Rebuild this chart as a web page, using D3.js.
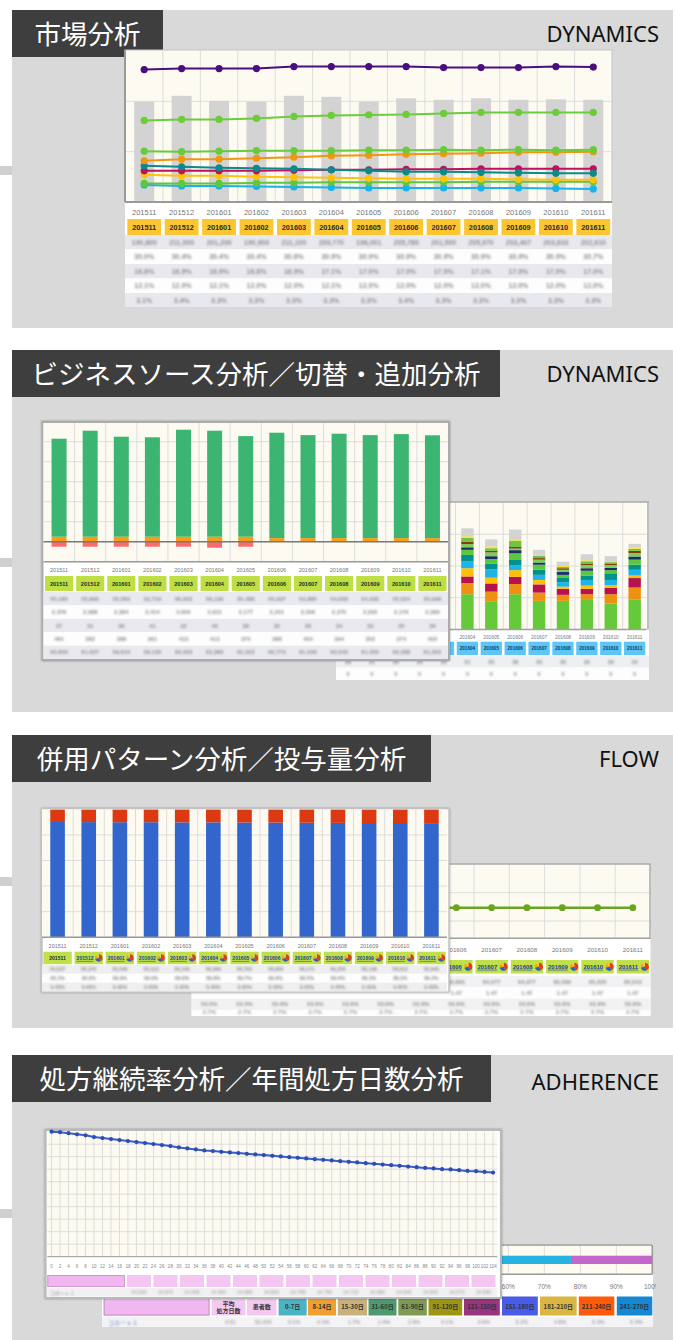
<!DOCTYPE html>
<html><head><meta charset="utf-8">
<script src="https://cdn.jsdelivr.net/npm/d3@7"></script>
<style>
html,body{margin:0;padding:0;background:#fff;}
svg{display:block;}
</style></head><body>
<svg id="c" width="677" height="1340"></svg>
<script>
// ================= DATA =================
const months = ["201511","201512","201601","201602","201603","201604","201605","201606","201607","201608","201609","201610","201611"];

// Panel 1: market analysis
const marketTotal = [199, 211, 201, 199, 211, 209, 199, 206, 203, 206, 203, 204, 203];
const mkPurple = [263,265,265,265,269,269,269,269,267,267,267,269,268];
const mkGreenA = [162,164,164,166,170,172,173,174,176,178,178,178,178];
const mkGreenB = [101,100,101,102,102,102,103,103,104,103,104,103,104];
const mkOrange = [82,85,85,87,89,92,93,95,96,97,99,99,100];
const mkTeal   = [72,70,68,67,66,64,62,60,60,59,58,57,57];
const mkCrimson= [62,62,62,62,63,64,64,65,65,66,66,66,66];
const mkYellow = [54,52,52,50,49,48,47,46,46,46,45,44,44];
const mkGreenC = [37,37,37,38,38,39,39,39,39,40,40,40,40];
const mkSky    = [34,32,32,31,30,29,28,28,28,28,28,27,26];
const mkRow1 = ["190,800","211,000","201,200","190,900","211,100","209,770","196,001","205,780","201,500","205,970","203,407","203,633","202,610"];
const mkRow2 = ["30.0%","30.4%","30.4%","30.4%","30.6%","30.9%","30.9%","30.9%","30.9%","30.9%","30.9%","30.9%","30.7%"];
const mkRow3 = ["16.8%","16.9%","16.9%","16.8%","16.9%","17.1%","17.0%","17.0%","17.0%","17.1%","17.0%","17.0%","17.0%"];
const mkRow4 = ["12.1%","12.0%","12.1%","12.0%","12.0%","12.1%","12.0%","12.0%","12.0%","12.0%","12.0%","12.0%","12.0%"];
const mkRow5 = ["3.1%","3.4%","3.3%","3.3%","3.3%","3.3%","3.3%","3.4%","3.3%","3.3%","3.3%","3.3%","3.3%"];

// Panel 2 left: business source
const bizGreen  = [49.0,53.0,50.0,49.7,53.5,53.0,50.3,52.7,51.5,52.2,51.5,52.0,51.4];
const bizOrange = [2.5,2.5,2.5,2.5,2.5,2.5,2.5,1.8,1.8,1.8,1.8,1.8,1.8];
const bizLoss   = [-2.5,-2.5,-2.5,-2.5,-2.5,-3.0,-2.5,0,0,0,0,0,0];
const bizRow1 = ["55,185","55,890","55,060","52,719","56,002","56,130","55,486","55,097","53,885","54,008","54,022","55,524","55,098"];
const bizRow2 = ["2,378","2,388","2,384","2,414","2,605","2,621","2,177","2,201","2,306","2,370","2,295","2,176","2,389"];
const bizRow3 = ["37","31","38","41","32","40","38","35","36","34","33","35","36"];
const bizRow4 = ["481","382","388","361","413","413","374","388","404","394","352","374","402"];
const bizRow5 = ["60,800","61,027","59,610","59,130","63,050","63,380","61,022","60,773","61,000","62,042","61,055","62,388","61,003"];

// Panel 2 right: switching / add-on (stacked)
const swA = [10.5,10.8,10.2,10.6,11.5,11.1,8.7,11.1,9.0,9.0,9.3,8.2,9.5];
const swB = [3.2,3.3,3.1,3.2,3.4,3.5,3.2,3.2,2.6,1.9,1.8,2.9,3.7];
const swC = [2.4,2.3,2.2,2.3,2.2,2.1,2.6,2.3,2.6,1.9,1.7,2.0,3.0];
const swD = [2.2,2.3,2.1,2.2,2.4,2.6,1.8,2.1,1.4,0.7,1.0,0.9,0.8];
const swE = [2.0,2.1,1.9,2.0,2.0,2.1,2.7,1.6,1.6,1.4,1.8,1.6,1.8];
const swF = [1.9,2.0,1.8,1.9,2.0,2.1,1.8,1.6,1.6,1.5,1.4,2.1,1.6];
const swG = [1.5,1.6,1.5,1.5,1.6,1.6,1.4,2.1,1.6,0.8,1.5,1.0,1.6];
const swH = [0.8,0.8,0.8,0.8,0.8,0.8,0.9,1.0,0.7,0.9,0.8,0.7,1.0];
const swI = [1.0,1.0,0.9,1.0,1.0,1.0,1.2,0.5,0.9,0.7,1.0,0.9,1.1];
const swJ = [0.6,0.7,0.6,0.6,0.7,0.8,0.5,0.5,0.5,0.5,0.5,0.5,0.7];
const swK = [1.0,1.1,1.0,1.0,1.2,1.2,0.8,2.0,0.7,0.4,0.7,0.4,0.6];
const swL = [0.5,0.5,0.5,0.5,0.5,0.5,0.6,0.5,0.3,0.3,0.3,0.4,0.5];
const swM = [2.4,2.5,2.3,2.4,2.7,2.5,2.2,3.0,1.6,1.4,1.9,1.5,1.1];
const swRow1 = ["28","31","30","29","33","31","25","38","33","30","30","29","30"];
const swRow2 = ["0","0","0","0","0","0","0","0","0","0","0","0","0"];

// Panel 3 left: combination pattern (100% stacked)
const comboBlue  = [90.1,90.0,89.9,89.9,89.8,89.8,89.7,89.6,89.5,89.4,89.3,89.3,89.2];
const comboRed   = [9.5,9.6,9.7,9.7,9.8,9.8,9.9,10.0,10.1,10.2,10.3,10.3,10.4];
const comboOther = [0.4,0.4,0.4,0.4,0.4,0.4,0.4,0.4,0.4,0.4,0.4,0.4,0.4];
const comboRow1 = ["54,027","55,370","55,546","55,122","56,105","56,960","56,703","56,950","56,171","56,205","56,138","56,012","55,940"];
const comboRow2 = ["90.1%","90.0%","89.9%","89.9%","89.8%","89.8%","89.7%","89.6%","89.5%","89.4%","89.3%","89.3%","89.2%"];
const comboRow3 = ["0.40%","0.40%","0.40%","0.40%","0.40%","0.40%","0.40%","0.40%","0.40%","0.40%","0.40%","0.40%","0.40%"];
const pieShares = [42, 30, 18, 10];

// Panel 3 right: dose line
const doseAvg = [1.46,1.46,1.47,1.47,1.47,1.47,1.47,1.47,1.47,1.47,1.47,1.47,1.47];
const doseRow1 = ["65,331","65,890","65,912","66,004","66,120","66,320","66,450","66,891","64,077","64,077","65,090","65,220","65,510"];
const doseRow2 = ["1.47","1.47","1.47","1.47","1.47","1.47","1.47","1.47","1.47","1.47","1.47","1.47","1.47"];
const doseRow3 = ["53.5%","53.5%","53.6%","53.6%","53.6%","53.6%","53.6%","53.6%","53.6%","53.6%","53.6%","53.6%","53.6%"];
const doseRow4 = ["2.7%","2.7%","2.7%","2.7%","2.7%","2.7%","2.7%","2.7%","2.7%","2.7%","2.7%","2.7%","2.7%"];

// Panel 4: persistence curve (weeks 0..104, every 2 weeks)
const weekLabels = ["0","2","4","6","8","10","12","14","16","18","20","22","24","26","28","30","32","34","36","38","40","42","44","46","48","50","52","54","56","58","60","62","64","66","68","70","72","74","76","78","80","82","84","86","88","90","92","94","96","98","100","102","104"];
const persistence = [100,99.6,98.8,97.9,97.1,95.7,94.9,94.1,93.3,92.5,91.7,90.9,90.1,89.3,88.5,87.4,86.6,85.8,85.0,84.5,83.9,83.4,82.9,82.3,81.8,81.3,80.7,80.2,79.6,79.1,78.6,78.0,77.5,77.0,76.4,75.9,75.4,74.8,74.3,73.7,73.2,72.7,72.1,71.6,71.0,70.6,70.0,69.8,69.2,68.6,68.4,67.8,67.3];
const adhPinkRow = ["0.000","1.00","1.00","1.00","1.00","1.00","1.00","1.00","1.00","1.00","1.00","1.00","1.00","1.00"];
const adhGrayRow = ["15,000","14,970","14,935","14,900","14,860","14,820","14,785","14,750","14,710","14,680","14,640","14,600","14,570","14,540"];
const cohortName = "コホート１";
// Panel 4: annual prescription days
const dayBins = ["0-7日","8-14日","15-30日","31-60日","61-90日","91-120日","121-150日","151-180日","181-210日","211-240日","241-270日"];
const dayRow = ["3.51","50,000","0.1%","0.3%","1.7%","2.4%","2.9%","3.1%","3.9%","5.2%","4.8%","5.0%","5.9%"];
const shareSegments = [77.4, 22.6];
const shareTicks = [0,10,20,30,40,50,60,70,80,90,100];

// ================= STYLE =================
const LAT = "'Liberation Sans', Arial, sans-serif";
const JP = "'Noto Sans CJK JP', sans-serif";
const CREAM = "#fdfbf1";
const GRID = "#dcdcdc";

const svg = d3.select("#c");
const defs = svg.append("defs");
defs.append("filter").attr("id","blur").attr("x","-30%").attr("y","-80%").attr("width","160%").attr("height","260%")
  .append("feGaussianBlur").attr("stdDeviation",1.15);
const sh = defs.append("filter").attr("id","shadow").attr("x","-5%").attr("y","-5%").attr("width","110%").attr("height","110%");
sh.append("feDropShadow").attr("dx",0).attr("dy",0).attr("stdDeviation",1.2).attr("flood-color","#000").attr("flood-opacity",0.35);

// ---------- panels ----------
function panel(y0, y1, title, boxW, tag, tagY, dashY) {
  svg.append("rect").attr("x",12).attr("y",y0).attr("width",661).attr("height",y1-y0).attr("fill","#d9d9d9");
  svg.append("rect").attr("x",0).attr("y",dashY).attr("width",12).attr("height",9).attr("fill","#cfcfcf");
  svg.append("rect").attr("x",12).attr("y",y0).attr("width",boxW).attr("height",47).attr("fill","#3e3e3e");
  svg.append("text").attr("x",12+boxW/2).attr("y",y0+22.5).attr("text-anchor","middle").attr("dominant-baseline","central")
    .attr("font-family",JP).attr("font-size",26.5).attr("fill","#fff").text(title);
  svg.append("text").attr("x",659).attr("y",tagY).attr("text-anchor","end")
    .attr("font-family","'Noto Sans', sans-serif").attr("font-size",22).attr("fill","#111").text(tag);
}
panel(10, 328, "市場分析", 151, "DYNAMICS", 42, 166);
panel(350, 712, "ビジネスソース分析／切替・追加分析", 488, "DYNAMICS", 382, 558);
panel(735, 1028, "併用パターン分析／投与量分析", 419, "FLOW", 767, 877);
panel(1055, 1340, "処方継続率分析／年間処方日数分析", 479, "ADHERENCE", 1090, 1209);

// ---------- helpers ----------
// "hide" = rectangle of a chart stacked in front; texts whose anchor lies inside it are not drawn (they are covered)
const shown = (hide, px, py) => !hide || !(px > hide[0] && px < hide[1] && py > hide[2] && py < hide[3]);
function vgrid(g, x, y0, y1) {
  g.append("g").selectAll("line").data(months.slice(1)).join("line")
    .attr("x1",d=>x(d)).attr("x2",d=>x(d)).attr("y1",y0).attr("y2",y1).attr("stroke",GRID);
}
function hgrid(g, y, ticks, x0, x1) {
  g.append("g").selectAll("line").data(ticks).join("line")
    .attr("x1",x0).attr("x2",x1).attr("y1",d=>y(d)).attr("y2",d=>y(d)).attr("stroke",GRID);
}
function monthLabels(g, x, y, fs, hide) {
  g.append("g").selectAll("text").data(months.filter(m=>shown(hide, x(m)+x.bandwidth()/2, y))).join("text")
    .attr("x",d=>x(d)+x.bandwidth()/2).attr("y",y).attr("text-anchor","middle").attr("dominant-baseline","central")
    .attr("font-family",LAT).attr("font-size",fs).attr("fill","#777").text(d=>d);
}
function headerRow(g, x, y, h, fill, fs, inset, link, tcol, hide) {
  const gg = g.append("g");
  months.forEach((m,i) => {
    const cx = x(m) + inset, w = x.bandwidth() - 2*inset;
    gg.append("rect").attr("x",cx).attr("y",y).attr("width",w).attr("height",h).attr("fill",fill);
    if (!shown(hide, cx + w/2, y + h/2)) return;
    if (link && i > 0) {
      gg.append("text").attr("x",cx+2).attr("y",y+h/2).attr("dominant-baseline","central")
        .attr("font-family",LAT).attr("font-size",fs).attr("font-weight","bold").attr("fill","#1f3a9a")
        .style("text-decoration","underline").text(m);
      const pg = gg.append("g").attr("transform",`translate(${cx+w-4.2},${y+h/2})`);
      const arcs = d3.pie().sort(null)(pieShares);
      const pcol = ["#e03c1e","#2e5cc8","#f7a21b","#ffd21a"];
      pg.selectAll("path").data(arcs).join("path").attr("d",d3.arc().innerRadius(0).outerRadius(h*0.3)).attr("fill",(d,j)=>pcol[j]);
    } else {
      gg.append("text").attr("x",cx+w/2).attr("y",y+h/2).attr("text-anchor","middle").attr("dominant-baseline","central")
        .attr("font-family",LAT).attr("font-size",fs).attr("font-weight","bold").attr("fill",tcol||"#2a2a2a").text(m);
    }
  });
}
function blurRows(g, x, x0, x1, y0, h, rows, fs, bgs, hide) {
  rows.forEach((vals,r) => {
    g.append("rect").attr("x",x0).attr("y",y0+r*h).attr("width",x1-x0).attr("height",h).attr("fill",bgs[r%bgs.length]);
  });
  const tg = g.append("g").attr("filter","url(#blur)");
  rows.forEach((vals,r) => {
    const ty = y0+r*h+h/2;
    const items = vals.map((v,i)=>({v, cx:x(months[i])+x.bandwidth()/2})).filter(o=>shown(hide, o.cx, ty));
    tg.selectAll(null).data(items).join("text")
      .attr("x",d=>d.cx).attr("y",ty).attr("text-anchor","middle").attr("dominant-baseline","central")
      .attr("font-family",LAT).attr("font-size",fs).attr("font-weight","bold").attr("fill","#8f8f8f").text(d=>d.v);
  });
}

// ================= PANEL 1 =================
{
  const g = svg.append("g");
  const x = d3.scaleBand().domain(months).range([125.5, 612]);
  const y = d3.scaleLinear().domain([0,300]).range([202,51]);
  g.append("rect").attr("x",125).attr("y",50).attr("width",487).attr("height",257).attr("fill","#fff");
  g.append("rect").attr("x",125).attr("y",50).attr("width",487).attr("height",152).attr("fill",CREAM).attr("stroke","#c4c4c4");
  hgrid(g, y, [100,200], 125, 612);
  vgrid(g, x, 51, 202);
  g.append("g").selectAll("rect").data(marketTotal).join("rect")
    .attr("x",(d,i)=>x(months[i])+x.bandwidth()/2-10).attr("width",20)
    .attr("y",d=>y(d)).attr("height",d=>y(0)-y(d)).attr("fill","#d3d3d3");
  g.append("line").attr("x1",125).attr("x2",125).attr("y1",50).attr("y2",202).attr("stroke","#9a9a9a").attr("stroke-width",2);
  g.append("line").attr("x1",125).attr("x2",612).attr("y1",202).attr("y2",202).attr("stroke","#9a9a9a").attr("stroke-width",2);
  const series = [
    [mkSky,"#19b2ea"],[mkGreenC,"#5cc83a"],[mkYellow,"#ffc20a"],[mkCrimson,"#c0105a"],[mkTeal,"#0a8a8a"],
    [mkOrange,"#f0960f"],[mkGreenB,"#66cc3c"],[mkGreenA,"#6ccc3a"],[mkPurple,"#4a0e7e"]
  ];
  const line = d3.line().x((d,i)=>x(months[i])+x.bandwidth()/2).y(d=>y(d));
  series.forEach(([vals,col]) => {
    g.append("path").attr("d",line(vals)).attr("fill","none").attr("stroke",col).attr("stroke-width",2);
    g.append("g").selectAll("circle").data(vals).join("circle")
      .attr("cx",(d,i)=>x(months[i])+x.bandwidth()/2).attr("cy",d=>y(d)).attr("r",3.6).attr("fill",col);
  });
  monthLabels(g, x, 212, 7.5);
  headerRow(g, x, 219, 16, "#fbc631", 7.3, 1.8, false);
  blurRows(g, x, 125, 612, 235, 14.5, [mkRow1,mkRow2,mkRow3,mkRow4,mkRow5], 7, ["#e8e9ef","#fdfdfd"]);
  svg.append("rect").attr("x",120).attr("y",307).attr("width",500).attr("height",21).attr("fill","#d9d9d9");
}

// ================= PANEL 2 RIGHT (behind) =================
{
  const hide = [41, 450.5, 421, 661];
  const g = svg.append("g");
  const x = d3.scaleBand().domain(months).range([336, 646.6]);
  const y = d3.scaleLinear().domain([0,40]).range([629.4,502.6]);
  g.append("rect").attr("x",336).attr("y",502).attr("width",313).attr("height",178).attr("fill","#fff");
  g.append("rect").attr("x",336).attr("y",502.6).attr("width",310.6).attr("height",126.8).attr("fill",CREAM);
  hgrid(g, y, [10,20,30], 336, 646.6);
  vgrid(g, x, 502.6, 629.4);
  const keys = ["k0","k1","k2","k3","k4","k5","k6","k7","k8","k9","k10","k11","k12"];
  const swSeries = [swA,swB,swC,swD,swE,swF,swG,swH,swI,swJ,swK,swL,swM];
  const cols = ["#66c93a","#ee9010","#b8124e","#ffc107","#1fb4e8","#00938c","#5cc63c","#1a2e6e","#7ad151","#8b3a14","#6cc644","#f5e23a","#d3d3d3"];
  const table = months.map((mo,i) => { const o = {month: mo}; keys.forEach((k,j)=>o[k]=swSeries[j][i]); return o; });
  const stacked = d3.stack().keys(keys)(table);
  stacked.forEach((layer,j) => {
    g.append("g").selectAll("rect").data(layer).join("rect")
      .attr("x",d=>x(d.data.month)+x.bandwidth()/2-6.2).attr("width",12.4)
      .attr("y",d=>y(d[1])).attr("height",d=>y(d[0])-y(d[1])).attr("fill",cols[j]);
  });
  g.append("line").attr("x1",336).attr("x2",646.6).attr("y1",629.4).attr("y2",629.4).attr("stroke","#a0a0a0").attr("stroke-width",1.5);
  g.append("line").attr("x1",336).attr("x2",649).attr("y1",502).attr("y2",502).attr("stroke","#aaa").attr("stroke-width",1.5);
  g.append("line").attr("x1",648).attr("x2",648).attr("y1",502).attr("y2",629.4).attr("stroke","#aaa").attr("stroke-width",1.5);
  monthLabels(g, x, 637, 4.8, hide);
  headerRow(g, x, 641.7, 13.3, "#5cc6f5", 4.6, 1.3, false, "#123a6a", hide);
  blurRows(g, x, 336, 649, 655.5, 12.2, [swRow1, swRow2], 5.5, ["#eeeff3","#fdfdfd"], [41,450.5,421,660]);
}

// ================= PANEL 2 LEFT (front) =================
{
  const g = svg.append("g");
  const x = d3.scaleBand().domain(months).range([43.5, 448]);
  const y = d3.scaleLinear().domain([-10,60]).range([561.7,421.7]);
  g.append("rect").attr("x",42.5).attr("y",422).attr("width",406.5).attr("height",238).attr("fill","#fff")
    .attr("stroke","#ababab").attr("stroke-width",2).attr("filter","url(#shadow)");
  g.append("rect").attr("x",43.5).attr("y",423).attr("width",404.5).attr("height",138.7).attr("fill",CREAM);
  hgrid(g, y, [10,20,30,40,50], 43.5, 448);
  vgrid(g, x, 423, 561.7);
  const bx = (i)=>x(months[i])+x.bandwidth()/2-7.5;
  g.append("g").selectAll("rect").data(bizOrange).join("rect")
    .attr("x",(d,i)=>bx(i)).attr("width",15).attr("y",d=>y(d)).attr("height",d=>y(0)-y(d)).attr("fill","#fb9a14");
  g.append("g").selectAll("rect").data(bizGreen).join("rect")
    .attr("x",(d,i)=>bx(i)).attr("width",15).attr("y",(d,i)=>y(d+bizOrange[i])).attr("height",(d,i)=>y(bizOrange[i])-y(d+bizOrange[i])).attr("fill","#3cb572");
  g.append("g").selectAll("rect").data(bizLoss).join("rect")
    .attr("x",(d,i)=>bx(i)).attr("width",15).attr("y",y(0)).attr("height",d=>y(d)-y(0)).attr("fill","#fb6b6b");
  g.append("line").attr("x1",43.5).attr("x2",448).attr("y1",y(0)).attr("y2",y(0)).attr("stroke","#777").attr("stroke-width",1.5);
  g.append("line").attr("x1",43.5).attr("x2",448).attr("y1",561.7).attr("y2",561.7).attr("stroke","#999").attr("stroke-width",1.5);
  monthLabels(g, x, 570, 5.6);
  headerRow(g, x, 576, 15, "#bedf44", 5.6, 1.5, false);
  blurRows(g, x, 43.5, 448, 592, 13.4, [bizRow1,bizRow2,bizRow3,bizRow4,bizRow5], 5.8, ["#e9eaef","#fdfdfd"]);
}

// ================= PANEL 3 RIGHT (behind) =================
{
  const hide = [41, 450.5, 808, 993];
  const g = svg.append("g");
  const x = d3.scaleBand().domain(months).range([191.6, 650.5]);
  const y = d3.scaleLinear().domain([0,3]).range([949.3,864.4]);
  g.append("rect").attr("x",191.6).attr("y",864).attr("width",458.9).attr("height",152).attr("fill","#fff");
  g.append("rect").attr("x",191.6).attr("y",864).attr("width",458.9).attr("height",74.3).attr("fill",CREAM);
  hgrid(g, y, [1,2], 191.6, 650.5);
  vgrid(g, x, 864, 938.3);
  const cx = (i)=>x(months[i])+x.bandwidth()/2;
  g.append("path").attr("d",d3.line().x((d,i)=>cx(i)).y(d=>y(d))(doseAvg)).attr("fill","none").attr("stroke","#6aa51e").attr("stroke-width",2.5);
  g.append("g").selectAll("circle").data(doseAvg).join("circle").attr("cx",(d,i)=>cx(i)).attr("cy",d=>y(d)).attr("r",3.4).attr("fill","#6aa51e");
  g.append("line").attr("x1",191.6).attr("x2",650.5).attr("y1",938.3).attr("y2",938.3).attr("stroke","#a0a0a0").attr("stroke-width",1.5);
  g.append("line").attr("x1",191.6).attr("x2",650.5).attr("y1",864).attr("y2",864).attr("stroke","#aaa").attr("stroke-width",1.5);
  g.append("line").attr("x1",650).attr("x2",650).attr("y1",864).attr("y2",938.3).attr("stroke","#aaa").attr("stroke-width",1.5);
  monthLabels(g, x, 949, 6.2, hide);
  headerRow(g, x, 960, 13.5, "#bfe04a", 5.9, 1.5, true, null, hide);
  blurRows(g, x, 191.6, 650.5, 976, 11.3, [doseRow1,doseRow2,doseRow3], 5.8, ["#f2f2f4","#fdfdfd"], hide);
  g.append("rect").attr("x",191.6).attr("y",1010).attr("width",458.9).attr("height",6).attr("fill","#fdfdfd");
  const tg = g.append("g").attr("filter","url(#blur)");
  doseRow4.forEach((v,i)=>{
    tg.append("text").attr("x",cx(i)).attr("y",1014).attr("text-anchor","middle").attr("font-family",LAT)
      .attr("font-size",5.8).attr("font-weight","bold").attr("fill","#9a9a9a").text(v);
  });
  svg.append("rect").attr("x",185).attr("y",1016).attr("width",470).attr("height",8).attr("fill","#d9d9d9");
}

// ================= PANEL 3 LEFT (front) =================
{
  const g = svg.append("g");
  const x = d3.scaleBand().domain(months).range([42, 447]);
  const y = d3.scaleLinear().domain([0,100]).range([937.3,809.3]);
  g.append("rect").attr("x",42).attr("y",809).attr("width",407).attr("height",183).attr("fill","#fff")
    .attr("stroke","#c2c2c2").attr("stroke-width",1.5).attr("filter","url(#shadow)");
  g.append("rect").attr("x",42).attr("y",809.3).attr("width",405).attr("height",128).attr("fill",CREAM);
  hgrid(g, y, [20,40,60,80], 42, 447);
  vgrid(g, x, 809.3, 937.3);
  const keys = ["blue","red","other"];
  const table = months.map((mo,i)=>({month: mo, blue:comboBlue[i], red:comboRed[i], other:comboOther[i]}));
  const cols = ["#3366cc","#dc3912","#ff9900"];
  d3.stack().keys(keys)(table).forEach((layer,j) => {
    g.append("g").selectAll("rect").data(layer).join("rect")
      .attr("x",d=>x(d.data.month)+x.bandwidth()/2-7.3).attr("width",14.6)
      .attr("y",d=>y(d[1])).attr("height",d=>y(d[0])-y(d[1])).attr("fill",cols[j]);
  });
  g.append("line").attr("x1",42).attr("x2",447).attr("y1",937.3).attr("y2",937.3).attr("stroke","#999").attr("stroke-width",1.5);
  monthLabels(g, x, 946, 5.5);
  headerRow(g, x, 951.7, 12.5, "#bfe04a", 5.1, 1.4, true);
  blurRows(g, x, 42, 447, 965, 8.8, [comboRow1,comboRow2,comboRow3], 5, ["#efeff2","#fdfdfd"]);
}

// ================= PANEL 4 BEHIND (share bar + day table) =================
{
  const hide = [44.6, 502, 1129, 1299];
  const g = svg.append("g");
  defs.append("clipPath").attr("id","clip4").append("rect").attr("x",100).attr("y",1240).attr("width",556).attr("height",100);
  g.attr("clip-path","url(#clip4)");
  g.append("rect").attr("x",102).attr("y",1244).attr("width",551).attr("height",83).attr("fill","#fff");
  const xs = d3.scaleLinear().domain([0,100]).range([292.3,652.3]);
  g.append("rect").attr("x",292.3).attr("y",1245).attr("width",360).attr("height",29.3).attr("fill",CREAM);
  g.append("g").selectAll("line").data(shareTicks).join("line")
    .attr("x1",d=>xs(d)).attr("x2",d=>xs(d)).attr("y1",1245).attr("y2",1274.3).attr("stroke",GRID);
  let acc = 0;
  const segCols = ["#27b3e2","#c067c9"];
  shareSegments.forEach((v,j) => {
    g.append("rect").attr("x",xs(acc)).attr("width",xs(acc+v)-xs(acc)).attr("y",1255.7).attr("height",8.3).attr("fill",segCols[j]);
    acc += v;
  });
  g.append("line").attr("x1",292).attr("x2",652.3).attr("y1",1245).attr("y2",1245).attr("stroke","#999").attr("stroke-width",1.5);
  g.append("line").attr("x1",652.3).attr("x2",652.3).attr("y1",1245).attr("y2",1274.3).attr("stroke","#999").attr("stroke-width",1.5);
  g.append("line").attr("x1",292).attr("x2",652.3).attr("y1",1274.3).attr("y2",1274.3).attr("stroke","#999").attr("stroke-width",1.5);
  g.append("g").selectAll("text").data(shareTicks.filter(d=>shown(hide, xs(d), 1286))).join("text")
    .attr("x",d=>xs(d)).attr("y",1286).attr("text-anchor","middle").attr("dominant-baseline","central")
    .attr("font-family",LAT).attr("font-size",6.5).attr("fill","#777").text(d=>d+"%");
  const cells = [
    {x:103.7,w:105.8,fill:"#efb8ef",label:""},
    {x:211.7,w:33.7,fill:"#f5c8f1",label:"平均\n処方日数"},
    {x:247,w:29.5,fill:"#f5c8f1",label:"患者数"}
  ];
  const binX = [278.6,308,337.8,368.5,398.3,428.5,464,502,540,578.8,616.8];
  const binR = [306.7,336,367.2,396.5,426.8,462.2,499.8,537.8,576.7,614.3,652.3];
  const binCols = ["#4bb3c3","#f0a030","#c9b27a","#4e9a6e","#7f9a52","#9e9612","#983480","#4a5ce6","#dcb642","#ff5a0a","#1488d2"];
  dayBins.forEach((b,i)=>cells.push({x:binX[i],w:binR[i]-binX[i],fill:binCols[i],label:b}));
  cells.forEach((c,i) => {
    g.append("rect").attr("x",c.x).attr("y",1296.5).attr("width",c.w).attr("height",19).attr("fill",c.fill);
    if (i===0) {
      g.append("rect").attr("x",c.x+0.5).attr("y",1297).attr("width",c.w-1).attr("height",18).attr("fill","none").attr("stroke","#d68fd4").attr("stroke-width",1.2);
    }
    const lines = c.label.split("\n");
    const t = g.append("text").attr("x",c.x+c.w/2).attr("text-anchor","middle").attr("font-family",JP)
      .attr("font-size",6).attr("font-weight","bold").attr("fill","#333");
    lines.forEach((ln,k)=>{
      t.append("tspan").attr("x",c.x+c.w/2).attr("y",1306.5 + (k-(lines.length-1)/2)*7).attr("dominant-baseline","central").text(ln);
    });
  });
  g.append("rect").attr("x",102).attr("y",1317).attr("width",551).attr("height",10).attr("fill","#f4f4f6");
  const tg = g.append("g").attr("filter","url(#blur)");
  tg.append("text").attr("x",108).attr("y",1322).attr("dominant-baseline","central").attr("font-family",JP).attr("font-size",6).attr("fill","#6a7fc0").text(cohortName);
  tg.selectAll(null).data(dayRow).join("text")
    .attr("x",(d,i)=>{const c=cells[i+1]; return c.x+c.w*0.55;}).attr("y",1322).attr("text-anchor","middle").attr("dominant-baseline","central")
    .attr("font-family",LAT).attr("font-size",5.5).attr("fill","#8a8a8a").text(d=>d);
}

// ================= PANEL 4 FRONT (persistence line) =================
{
  const g = svg.append("g");
  g.append("rect").attr("x",45.6).attr("y",1130).attr("width",455.3).attr("height",168).attr("fill","#fff")
    .attr("stroke","#b9b9b9").attr("stroke-width",2).attr("filter","url(#shadow)");
  const x = d3.scalePoint().domain(weekLabels).range([47.3,497.3]).padding(0.5);
  const y = d3.scaleLinear().domain([0,100]).range([1256.7,1131.7]);
  g.append("rect").attr("x",47.3).attr("y",1131.7).attr("width",450).attr("height",125).attr("fill",CREAM);
  g.append("g").selectAll("line").data(y.ticks(10).filter(d=>d>0&&d<100)).join("line")
    .attr("x1",47.3).attr("x2",497.3).attr("y1",d=>y(d)).attr("y2",d=>y(d)).attr("stroke",GRID);
  g.append("g").selectAll("line").data(weekLabels).join("line")
    .attr("x1",d=>x(d)).attr("x2",d=>x(d)).attr("y1",1131.7).attr("y2",1256.7).attr("stroke",GRID);
  g.append("line").attr("x1",47.3).attr("x2",497.3).attr("y1",1256.7).attr("y2",1256.7).attr("stroke","#aaa").attr("stroke-width",1.2);
  g.append("path").attr("d",d3.line().x((d,i)=>x(weekLabels[i])).y(d=>y(d))(persistence))
    .attr("fill","none").attr("stroke","#3a5cc8").attr("stroke-width",2);
  g.append("g").selectAll("circle").data(persistence).join("circle")
    .attr("cx",(d,i)=>x(weekLabels[i])).attr("cy",d=>y(d)).attr("r",2.1).attr("fill","#2c4db5");
  g.append("g").selectAll("text").data(weekLabels).join("text")
    .attr("x",d=>x(d)).attr("y",1266).attr("text-anchor","middle").attr("dominant-baseline","central")
    .attr("font-family",LAT).attr("font-size",4.6).attr("fill","#888").text(d=>d);
  g.append("rect").attr("x",47.3).attr("y",1275).attr("width",77.7).attr("height",12).attr("fill","#f0b6ee");
  g.append("rect").attr("x",47.8).attr("y",1275.5).attr("width",76.7).attr("height",11).attr("fill","none").attr("stroke","#d995d6").attr("stroke-width",1);
  const tg = g.append("g").attr("filter","url(#blur)");
  adhPinkRow.forEach((v,i) => {
    const cx = 127 + i*26.5;
    if (cx + 24 <= 499) g.append("rect").attr("x",cx).attr("y",1275).attr("width",24).attr("height",12).attr("fill","#f3c7f1");
    tg.append("text").attr("x",cx+12).attr("y",1281).attr("text-anchor","middle").attr("dominant-baseline","central")
      .attr("font-family",LAT).attr("font-size",5.5).attr("font-weight","bold").attr("fill","#9a7a9a").text(v);
  });
  g.append("rect").attr("x",47.3).attr("y",1288).attr("width",450).attr("height",8.5).attr("fill","#f1f1f3");
  const tg2 = g.append("g").attr("filter","url(#blur)");
  tg2.append("text").attr("x",50).attr("y",1292).attr("dominant-baseline","central").attr("font-family",JP).attr("font-size",5).attr("fill","#8a8a9a").text(cohortName);
  adhGrayRow.forEach((v,i) => {
    tg2.append("text").attr("x",127 + i*26.5 + 12).attr("y",1292).attr("text-anchor","middle").attr("dominant-baseline","central")
      .attr("font-family",LAT).attr("font-size",5).attr("fill","#9a9a9a").text(v);
  });
}
</script>
</body></html>
